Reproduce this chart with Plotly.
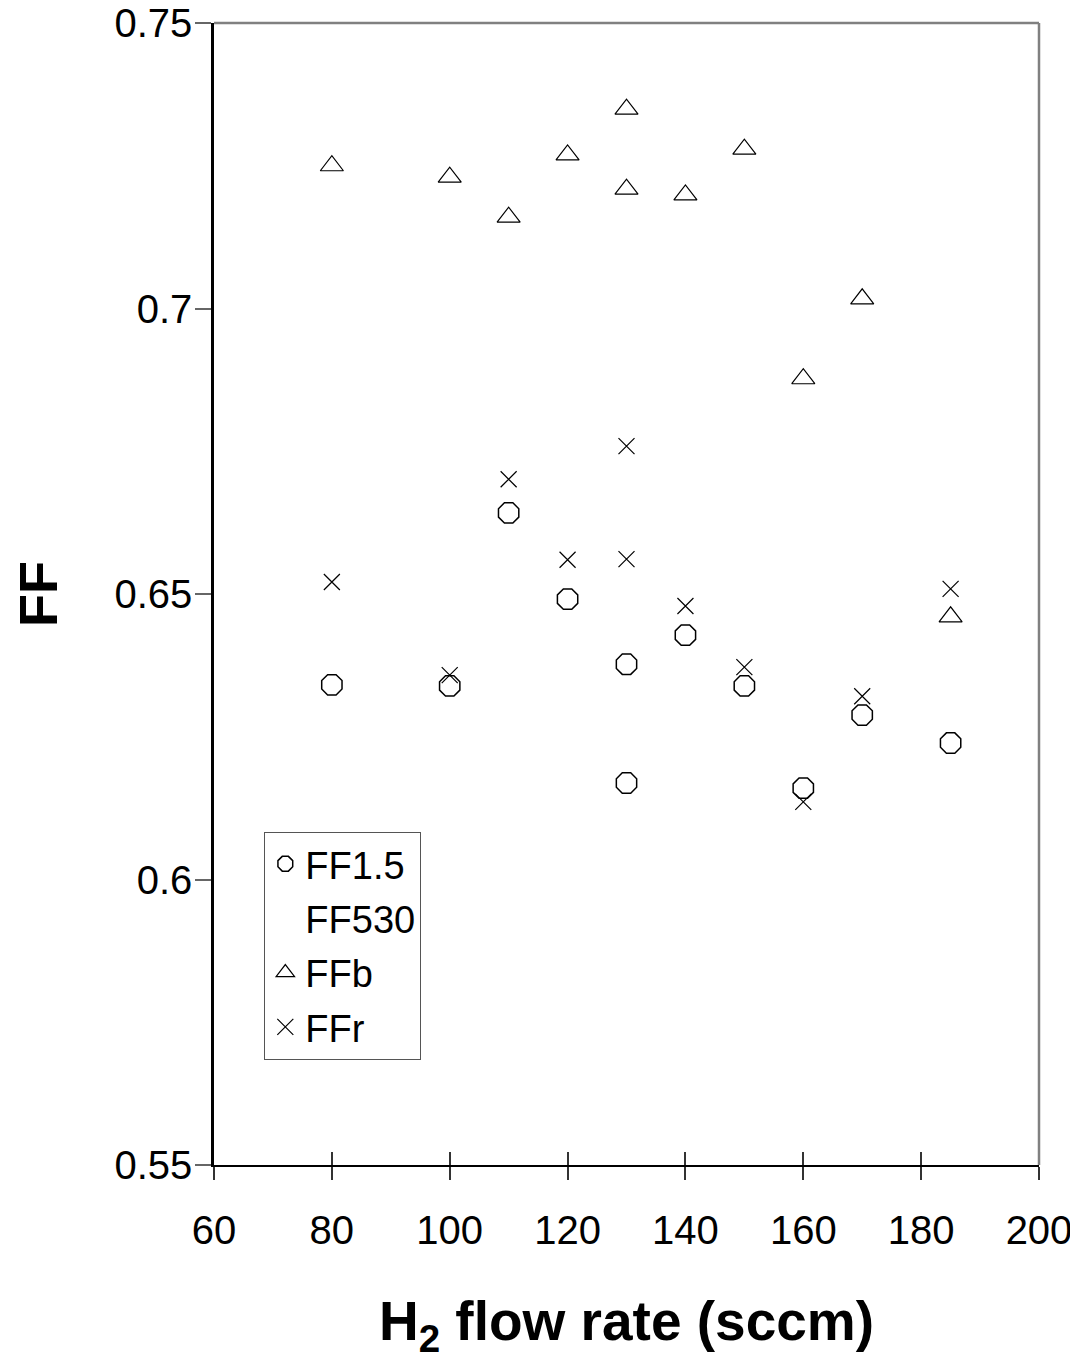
import plotly.graph_objects as go

flow = [80, 100, 110, 120, 130, 130, 140, 150, 160, 170, 185]
ff15 = [0.6341, 0.6339, 0.6642, 0.6491, 0.6377, 0.6169, 0.6428, 0.6339, 0.6160, 0.6288, 0.6239]
ffb = [0.7250, 0.7230, 0.7160, 0.7269, 0.7349, 0.7209, 0.7199, 0.7279, 0.6877, 0.7017, 0.6460]
ffr = [0.6521, 0.6358, 0.6701, 0.6560, 0.6759, 0.6561, 0.6479, 0.6372, 0.6136, 0.6321, 0.6509]
ff530 = [None] * len(flow)  # no visible marks in the reference

x_ticks = [60, 80, 100, 120, 140, 160, 180, 200]
y_ticks = [0.55, 0.6, 0.65, 0.7, 0.75]
y_tick_labels = ["0.55", "0.6", "0.65", "0.7", "0.75"]

FONT = "Liberation Sans, Arial, sans-serif"

fig = go.Figure()
fig.add_trace(go.Scatter(x=flow, y=ff15, mode="markers", name="FF1.5", legendgroup="a",
                         marker=dict(symbol="octagon-open", size=22, color="black",
                                     line=dict(width=1.5, color="black"))))
fig.add_trace(go.Scatter(x=flow, y=ff530, mode="markers", name="FF530", legendgroup="b",
                         marker=dict(symbol="circle", size=10, color="rgba(0,0,0,0)",
                                     line=dict(width=0, color="rgba(0,0,0,0)"))))
fig.add_trace(go.Scatter(x=flow, y=ffb, mode="markers", name="FFb", legendgroup="c",
                         marker=dict(symbol="triangle-up-open", size=20, color="black",
                                     line=dict(width=1.2, color="black"))))
fig.add_trace(go.Scatter(x=flow, y=ffr, mode="markers", name="FFr", legendgroup="d",
                         marker=dict(symbol="x-thin-open", size=16, color="black",
                                     line=dict(width=1.2, color="black"))))

# invisible trace for inside ticks on the x axis
fig.add_trace(go.Scatter(x=[None], y=[None], xaxis="x2", yaxis="y", showlegend=False,
                         hoverinfo="skip"))

# the page body adds an 8 px offset; margins compensate for it
fig.update_layout(
    width=1078, height=1352,
    paper_bgcolor="white", plot_bgcolor="white",
    margin=dict(l=206, r=47, t=15, b=195),
    font=dict(family=FONT, color="black"),
    showlegend=True,
    legend=dict(x=0.061, y=0.292, xanchor="left", yanchor="top",
                bgcolor="white", bordercolor="#555555", borderwidth=1,
                font=dict(size=38, family=FONT), tracegroupgap=2),
    xaxis=dict(range=[60, 200], tickvals=x_ticks, ticktext=[str(v) for v in x_ticks],
               automargin=False, ticklabeloverflow="allow",
               showgrid=False, zeroline=False, showline=True, linecolor="black", linewidth=2,
               ticks="outside", ticklen=13, tickwidth=1.5, tickcolor="#333333",
               tickfont=dict(size=40, family=FONT), ticklabelstandoff=16,
               title=dict(text="<b>H<sub>2</sub> flow rate (sccm)</b>",
                          font=dict(size=55, family=FONT), standoff=51)),
    xaxis2=dict(range=[60, 200], overlaying="x", side="bottom", tickvals=x_ticks,
                automargin=False,
                showticklabels=False, showgrid=False, zeroline=False, showline=False,
                ticks="inside", ticklen=13, tickwidth=1.5, tickcolor="#333333"),
    yaxis=dict(range=[0.55, 0.75], tickvals=y_ticks, ticktext=y_tick_labels,
               automargin=False, ticklabeloverflow="allow",
               showgrid=False, zeroline=False, showline=True, linecolor="black", linewidth=2.5,
               ticks="outside", ticklen=16, tickwidth=1.5, tickcolor="#666666",
               tickfont=dict(size=40, family=FONT), ticklabelstandoff=-5,
               title=dict(text="<b>FF</b>", font=dict(size=54, family=FONT), standoff=45)),
    shapes=[
        dict(type="line", xref="paper", yref="paper", x0=0, x1=1, y0=1, y1=1,
             line=dict(color="#808080", width=2.5)),
        dict(type="line", xref="paper", yref="paper", x0=1, x1=1, y0=0, y1=1,
             line=dict(color="#808080", width=2.5)),
    ],
)

fig.write_html("out.html")
